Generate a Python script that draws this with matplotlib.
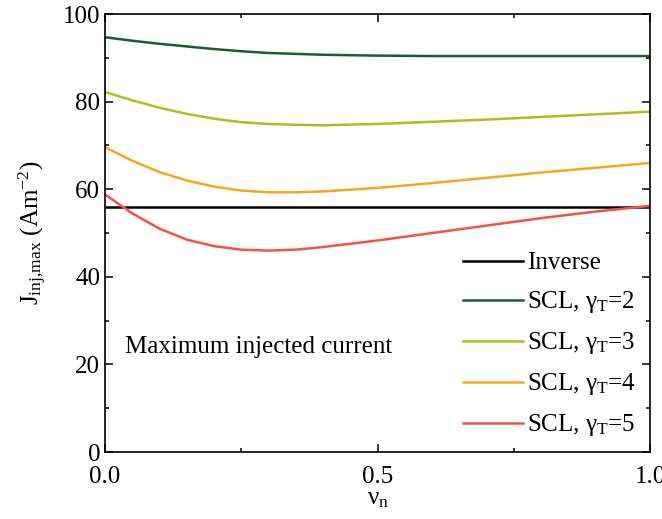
import matplotlib
matplotlib.use('Agg')
import matplotlib.pyplot as plt
from matplotlib.ticker import MultipleLocator

plt.rcParams['font.family'] = ['Liberation Serif', 'DejaVu Serif']
plt.rcParams['mathtext.fontset'] = 'custom'
plt.rcParams['mathtext.rm'] = 'Liberation Serif'
plt.rcParams['mathtext.it'] = 'Liberation Serif:italic'

nu = [0.0, 0.05, 0.1, 0.15, 0.2, 0.25, 0.3, 0.35, 0.4, 0.5, 0.6, 0.7, 0.8, 0.9, 1.0]
inverse = [56.0] * len(nu)
scl2 = [94.7, 93.9, 93.2, 92.6, 92.0, 91.5, 91.1, 90.9, 90.7, 90.5, 90.4, 90.4, 90.4, 90.4, 90.4]
scl3 = [82.2, 80.3, 78.6, 77.2, 76.1, 75.3, 74.9, 74.7, 74.6, 74.9, 75.4, 75.9, 76.5, 77.1, 77.7]
scl4 = [69.6, 66.5, 63.9, 62.0, 60.6, 59.7, 59.3, 59.3, 59.5, 60.3, 61.4, 62.6, 63.8, 64.9, 66.0]
scl5 = [58.8, 54.5, 51.0, 48.5, 47.0, 46.2, 46.0, 46.2, 46.8, 48.3, 50.0, 51.7, 53.4, 54.9, 56.2]

fig = plt.figure(figsize=(6.62, 5.19), dpi=100)
ax = fig.add_axes([0.1586, 0.129, 0.8234, 0.844])

ax.plot(nu, inverse, color='black', lw=1.8, label='Inverse')
ax.plot(nu, scl2, color='#1b5e2b', lw=1.8, label=r'SCL, γ$_{\rm T}$=2')
ax.plot(nu, scl3, color='#b3bb22', lw=1.8, label=r'SCL, γ$_{\rm T}$=3')
ax.plot(nu, scl4, color='#f2a922', lw=1.8, label=r'SCL, γ$_{\rm T}$=4')
ax.plot(nu, scl5, color='#f5514b', lw=1.8, label=r'SCL, γ$_{\rm T}$=5')

ax.text(0.037, 24, 'Maximum injected current', fontsize=18, va='center')

ax.set_xlim(0, 1)
ax.set_ylim(0, 100)
ax.xaxis.set_major_locator(MultipleLocator(0.5))
ax.xaxis.set_minor_locator(MultipleLocator(0.25))
ax.yaxis.set_major_locator(MultipleLocator(20))
ax.yaxis.set_minor_locator(MultipleLocator(10))
ax.tick_params(which='both', direction='in', top=True, right=True, width=1.1, labelsize=18)
ax.tick_params(which='major', length=6)
ax.tick_params(which='minor', length=3)
ax.tick_params(axis='x', pad=10)
for s in ax.spines.values():
    s.set_linewidth(1.2)

ax.set_xlabel(r'ν$_{\rm n}$', fontsize=18, labelpad=0)
ax.set_ylabel(r'J$_{\rm inj{,}max}$ (Am$^{-2}$)', fontsize=18, labelpad=10)

ax.legend(loc='lower right', frameon=False, fontsize=18, handlelength=2.4,
          labelspacing=0.6, handletextpad=0.15, borderaxespad=0.15)

fig.savefig('out.png', dpi=100)
